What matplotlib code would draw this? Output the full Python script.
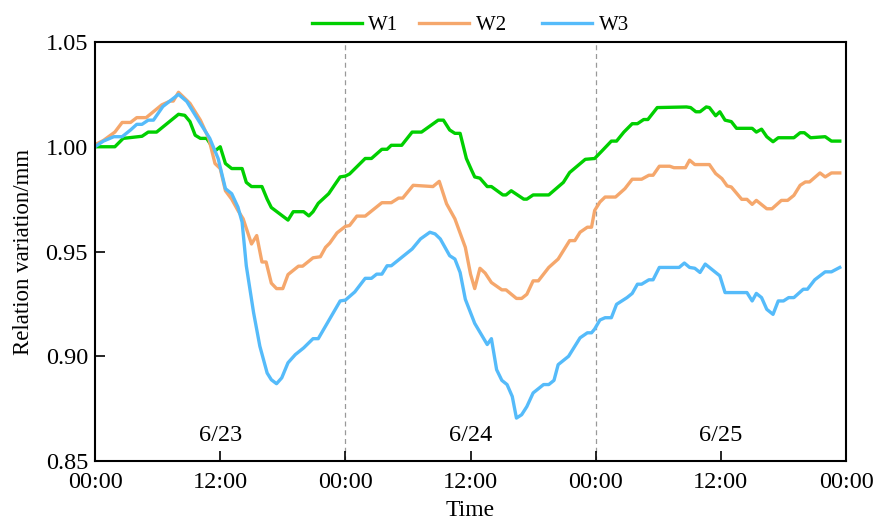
import matplotlib
matplotlib.use("Agg")
import matplotlib.pyplot as plt

plt.rcParams['font.family'] = ['Liberation Serif', 'DejaVu Serif']
plt.rcParams['mathtext.fontset'] = 'stix'

# ---- data (hours from 6/23 00:00, relative variation in mm) ----
w1_t = [0, 1.9, 2.7, 4.5, 5.1, 5.9, 8.0, 8.6, 9.1, 9.6, 10.1, 10.7, 11.5, 12.0, 12.5, 13.1, 14.1,
        14.5, 15.0, 16.0, 16.5, 16.9, 18.5, 19.0, 20.0, 20.5, 20.9, 21.4, 22.4, 23.0, 23.5, 24.0,
        24.4, 25.9, 26.5, 27.5, 28.0, 28.4, 29.4, 30.4, 31.3, 32.9, 33.4, 34.0, 34.5, 35.0, 35.6,
        36.1, 36.4, 36.9, 37.6, 38.0, 39.1, 39.4, 39.9, 41.1, 41.4, 42.0, 43.5, 44.9, 45.5, 47.0,
        47.9, 48.6, 49.5, 50.0, 50.7, 51.5, 52.0, 52.6, 53.0, 53.9, 56.7, 57.1, 57.6, 58.0, 58.6,
        58.9, 59.5, 59.9, 60.4, 61.0, 61.5, 63.0, 63.4, 63.9, 64.4, 65.0, 65.5, 67.0, 67.6, 68.0,
        68.6, 70.0, 70.6, 71.4]
w1_v = [1.000, 1.000, 1.004, 1.005, 1.007, 1.007, 1.0155, 1.015, 1.012, 1.0055, 1.004, 1.004, 0.998,
        1.000, 0.992, 0.9896, 0.9896, 0.983, 0.981, 0.981, 0.975, 0.971, 0.965, 0.969, 0.969, 0.967,
        0.969, 0.973, 0.9776, 0.982, 0.9856, 0.9860,
        0.987, 0.9944, 0.9944, 0.9988, 0.9988, 1.0007, 1.0007, 1.007, 1.007, 1.0127, 1.0127, 1.008,
        1.0064, 1.0064, 0.9944, 0.9888, 0.9856, 0.985, 0.981, 0.981, 0.977, 0.977, 0.979, 0.975,
        0.975, 0.977, 0.977, 0.983, 0.9877, 0.994,
        0.9944, 0.998, 1.0027, 1.0027, 1.007, 1.011, 1.011, 1.013, 1.013, 1.0187, 1.019, 1.0187,
        1.0167, 1.0167, 1.019, 1.0187, 1.0148, 1.0167, 1.0127, 1.012, 1.0088, 1.0088, 1.007, 1.0084,
        1.0048, 1.0024, 1.0043, 1.0043, 1.0067, 1.0067, 1.0043, 1.0048, 1.0027, 1.0027]

w2_t = [0, 0.8, 1.9, 2.6, 3.4, 4.0, 4.9, 6.4, 7.2, 7.5, 8.0, 9.1, 10.1, 10.9, 11.5, 12.0, 12.5, 13.1,
        13.7, 14.2, 15.0, 15.5, 16.0, 16.4, 16.9, 17.4, 18.0, 18.5, 19.5, 19.9, 20.9, 21.6, 22.1,
        22.5, 23.2, 24.0, 24.4, 25.1, 25.9, 27.5, 28.4, 29.1, 29.5, 30.5, 32.4, 33.0, 33.7, 34.5,
        35.5, 36.0, 36.4, 36.9, 37.4, 38.0, 39.0, 39.4, 40.4, 40.9, 41.4, 42.0, 42.5, 43.5, 44.4,
        45.5, 46.0, 46.5, 47.2, 47.6, 47.9, 48.4, 48.9, 49.9, 50.8, 51.5, 52.4, 53.1, 53.5, 54.1,
        55.1, 55.5, 56.6, 57.0, 57.5, 58.9, 59.5, 60.1, 60.6, 61.0, 62.0, 62.5, 63.0, 63.4, 64.4,
        64.9, 65.8, 66.4, 67.0, 67.6, 68.1, 68.5, 69.5, 70.0, 70.6, 71.4]
w2_v = [1.001, 1.003, 1.007, 1.0116, 1.0116, 1.0139, 1.0139, 1.020, 1.0218, 1.0218, 1.026, 1.0207,
        1.0127, 1.004, 0.992, 0.9896, 0.979, 0.975, 0.9696, 0.9656, 0.9536, 0.9576, 0.945, 0.945,
        0.9349, 0.9323, 0.9323, 0.939, 0.943, 0.943, 0.947, 0.9475, 0.952, 0.954, 0.9589, 0.9620,
        0.9624, 0.9669, 0.9669, 0.9733, 0.9733, 0.9755, 0.9755, 0.9816, 0.981, 0.9835, 0.9728,
        0.9656, 0.952, 0.9392, 0.9323, 0.942, 0.9397, 0.9352, 0.9317, 0.9317, 0.9276, 0.9276,
        0.9296, 0.936, 0.936, 0.9424, 0.9464, 0.9552, 0.9552, 0.9592, 0.9616, 0.9616, 0.9696,
        0.9736, 0.976, 0.976, 0.980, 0.9845, 0.9845, 0.9864, 0.9864, 0.9907, 0.9907, 0.990, 0.990,
        0.9936, 0.9915, 0.9915, 0.9872, 0.9848, 0.9813, 0.9808, 0.9749, 0.9749, 0.9725, 0.9744,
        0.9704, 0.9704, 0.9744, 0.9744, 0.9768, 0.9816, 0.9832, 0.9832, 0.9875, 0.9856, 0.9875,
        0.9875]

w3_t = [0, 0.8, 1.8, 2.6, 3.4, 4.0, 4.5, 5.1, 5.6, 6.5, 7.3, 8.0, 8.8, 9.9, 11.0, 11.8, 12.5, 13.1,
        13.7, 14.1, 14.5, 15.2, 15.8, 16.5, 16.9, 17.4, 17.9, 18.5, 19.2, 20.0, 20.9, 21.4, 22.1,
        23.5, 24.0, 24.9, 25.9, 26.5, 27.0, 27.5, 28.0, 28.4, 30.4, 31.2, 32.1, 32.6, 33.1, 34.0,
        34.5, 35.0, 35.5, 36.4, 37.6, 38.0, 38.5, 39.0, 39.5, 40.0, 40.4, 40.9, 41.4, 42.0, 43.0,
        43.5, 44.0, 44.4, 45.4, 46.5, 47.2, 47.6, 47.9, 48.4, 48.9, 49.5, 50.0, 51.0, 51.5, 52.0,
        52.4, 53.1, 53.5, 54.1, 56.0, 56.5, 57.0, 57.5, 58.0, 58.5, 59.1, 59.9, 60.4, 62.5, 63.0,
        63.4, 63.9, 64.4, 65.0, 65.5, 66.0, 66.5, 67.0, 67.9, 68.3, 69.0, 70.0, 70.6, 71.4]
w3_v = [1.000, 1.0027, 1.0048, 1.0048, 1.008, 1.0107, 1.0107, 1.0127, 1.0127, 1.0192, 1.0223, 1.025,
        1.0216, 1.0127, 1.004, 0.9944, 0.980, 0.9776, 0.9712, 0.964, 0.9432, 0.9208, 0.9048, 0.892,
        0.8888, 0.8869, 0.8897, 0.8969, 0.9008, 0.904, 0.9084, 0.9084, 0.9144, 0.9264, 0.9268,
        0.9307, 0.9372, 0.9372, 0.9392, 0.9392, 0.9432, 0.9432, 0.9512, 0.956, 0.9592, 0.9584,
        0.956, 0.948, 0.9464, 0.940, 0.9272, 0.9157, 0.9056, 0.9084, 0.8936, 0.8885, 0.8865,
        0.8808, 0.8705, 0.8721, 0.876, 0.8825, 0.8865, 0.8865, 0.8885, 0.896, 0.900, 0.9088,
        0.9112, 0.9112, 0.9130, 0.9173, 0.9184, 0.9184, 0.9248, 0.928, 0.930, 0.9344, 0.9344,
        0.9365, 0.9365, 0.9424, 0.9424, 0.9445, 0.9424, 0.942, 0.940, 0.944, 0.9416, 0.9384,
        0.9304, 0.9304, 0.9264, 0.930, 0.928, 0.9224, 0.920, 0.9264, 0.9264, 0.928, 0.928, 0.932,
        0.932, 0.9365, 0.9403, 0.9403, 0.9424]

series_names = ['W1', 'W2', 'W3']
series_colors = ['#00cf00', '#f5a76c', '#55bbfa']

x_ticks = [0, 12, 24, 36, 48, 60, 72]
x_tick_labels = ['00:00', '12:00', '00:00', '12:00', '00:00', '12:00', '00:00']
y_ticks = [0.85, 0.90, 0.95, 1.00, 1.05]
day_pos = [12, 36, 60]
day_labels = ['6/23', '6/24', '6/25']
day_breaks = [24, 48]

fig = plt.figure(figsize=(8.76, 5.23), dpi=100)
ax = fig.add_axes([0.1085, 0.1185, 0.8573, 0.8012])

for t, v, name, c in zip([w1_t, w2_t, w3_t], [w1_v, w2_v, w3_v], series_names, series_colors):
    ax.plot(t, v, color=c, lw=2.4, label=name, solid_joinstyle='round')

for b in day_breaks:
    ax.axvline(b, color='#999999', lw=0.9, ls=(0, (4, 3)), zorder=0)

for p, lab in zip(day_pos, day_labels):
    ax.text(p, 0.862, lab, ha='center', va='center', fontsize=17.5)

ax.set_xlim(0, 72)
ax.set_ylim(0.85, 1.05)
ax.set_xticks(x_ticks)
ax.set_xticklabels(x_tick_labels)
ax.set_yticks(y_ticks)
ax.set_yticklabels([f'{y:.2f}' for y in y_ticks])
ax.tick_params(direction='in', length=7, width=1.2, labelsize=17.5)
ax.tick_params(axis='x', pad=8)
ax.tick_params(axis='y', pad=5)
for s in ax.spines.values():
    s.set_linewidth(1.5)

ax.set_xlabel('Time', fontsize=17, labelpad=5)
ax.set_ylabel('Relation variation/mm', fontsize=16.5, labelpad=8)

handles, labels = ax.get_legend_handles_labels()
leg = ax.legend(handles, ['W1', 'W2   ', 'W3'], ncol=3, loc='lower center',
                bbox_to_anchor=(0.5, 0.997), frameon=False, fontsize=15,
                handlelength=2.4, handletextpad=0.3, columnspacing=1.0,
                borderaxespad=0)

fig.savefig('out.png', dpi=100)
